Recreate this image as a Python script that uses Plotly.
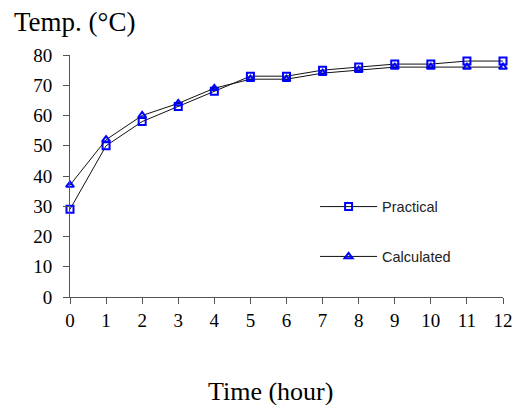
import plotly.graph_objects as go

hours = [0, 1, 2, 3, 4, 5, 6, 7, 8, 9, 10, 11, 12]
practical = [29, 50, 58, 63, 68, 73, 73, 75, 76, 77, 77, 78, 78]
calculated = [37, 52, 60, 64, 69, 72, 72, 74, 75, 76, 76, 76, 76]
y_ticks = [0, 10, 20, 30, 40, 50, 60, 70, 80]

serif = "Liberation Serif, Times New Roman, serif"
sans = "Liberation Sans, Arial, sans-serif"

fig = go.Figure()
fig.add_trace(go.Scatter(
    x=hours, y=practical, name="Practical", mode="lines+markers",
    line=dict(color="#111", width=1),
    marker=dict(symbol="square-open", size=7, color="blue", line=dict(color="blue", width=2)),
    cliponaxis=False, legendgroup="p"))
fig.add_trace(go.Scatter(
    x=hours, y=calculated, name="Calculated", mode="lines+markers",
    line=dict(color="#111", width=1),
    marker=dict(symbol="triangle-up-open", size=7, color="blue", line=dict(color="blue", width=2)),
    cliponaxis=False, legendgroup="c"))

fig.update_layout(
    width=516, height=405,
    margin=dict(l=70, r=13, t=55, b=108),
    paper_bgcolor="white", plot_bgcolor="white",
    showlegend=True,
    legend=dict(x=0.566, y=0.27, xanchor="left", yanchor="middle",
                font=dict(family=sans, size=14.5, color="#222"),
                itemwidth=57,
                tracegroupgap=28, bgcolor="rgba(0,0,0,0)"),
    xaxis=dict(range=[0, 12], tickvals=hours, showgrid=False, zeroline=False,
               showline=True, linecolor="#555", linewidth=1, automargin=False,
               ticks="outside", ticklen=6, tickcolor="#555",
               tickfont=dict(family=serif, size=19, color="black")),
    yaxis=dict(range=[0, 80], tickvals=y_ticks, showgrid=False, zeroline=False,
               showline=True, linecolor="#555", linewidth=1, automargin=False,
               ticks="outside", ticklen=6, tickcolor="#555", ticklabelstandoff=7,
               tickfont=dict(family=serif, size=19, color="black")),
    annotations=[
        dict(text="Temp. (°C)", xref="paper", yref="paper", x=-0.134, y=1.136,
             xanchor="left", yanchor="middle", showarrow=False,
             font=dict(family=serif, size=27, color="black")),
        dict(text="Time (hour)", xref="paper", yref="paper", x=0.462, y=-0.39,
             xanchor="center", yanchor="middle", showarrow=False,
             font=dict(family=serif, size=26, color="black")),
    ],
)

fig.write_html(
    "out.html",
    config={"displayModeBar": False},
    post_script="document.body.style.margin='0';"
                "document.documentElement.style.overflow='hidden';"
                "document.body.style.overflow='hidden';",
)
